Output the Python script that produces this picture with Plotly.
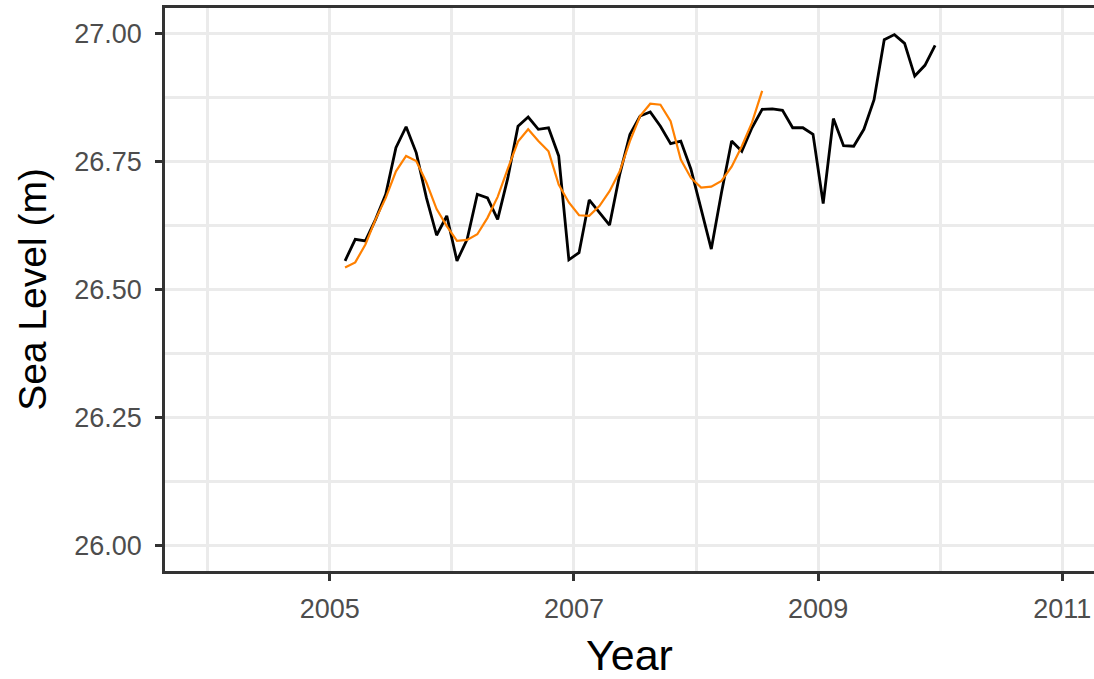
import pandas as pd
import plotly.graph_objects as go

# Monthly observations, Feb 2005 - Dec 2009
obs_months = pd.period_range("2005-02", "2009-12", freq="M")
sea_level = [
    26.556, 26.598, 26.595, 26.637, 26.686, 26.777, 26.818, 26.767, 26.679, 26.606,
    26.644, 26.556, 26.598, 26.686, 26.679, 26.637, 26.718, 26.819, 26.837, 26.813,
    26.816, 26.761, 26.558, 26.572, 26.675, 26.650, 26.626, 26.725, 26.803, 26.839,
    26.847, 26.819, 26.785, 26.790, 26.735, 26.657, 26.579, 26.689, 26.790, 26.770,
    26.816, 26.852, 26.853, 26.850, 26.816, 26.816, 26.803, 26.668, 26.834, 26.781,
    26.780, 26.813, 26.871, 26.988, 26.998, 26.981, 26.917, 26.938, 26.977,
]

# Fitted (smoothed) series, Feb 2005 - Aug 2008
fit_months = pd.period_range("2005-02", "2008-08", freq="M")
fitted_level = [
    26.543, 26.553, 26.588, 26.637, 26.679, 26.731, 26.761, 26.751, 26.709, 26.657,
    26.624, 26.595, 26.597, 26.608, 26.640, 26.681, 26.736, 26.789, 26.813, 26.790,
    26.770, 26.705, 26.670, 26.645, 26.644, 26.663, 26.692, 26.731, 26.790, 26.839,
    26.863, 26.861, 26.829, 26.754, 26.718, 26.699, 26.701, 26.712, 26.740, 26.780,
    26.826, 26.888,
]

year_ticks = [2005, 2007, 2009, 2011]
level_ticks = [26.00, 26.25, 26.50, 26.75, 27.00]


def decimal_year(periods):
    return [p.year + (p.month - 0.5) / 12 for p in periods]


fig = go.Figure()
fig.add_trace(go.Scatter(
    x=decimal_year(obs_months), y=sea_level, mode="lines",
    line=dict(color="black", width=2.8), showlegend=False,
))
fig.add_trace(go.Scatter(
    x=decimal_year(fit_months), y=fitted_level, mode="lines",
    line=dict(color="#FF8000", width=2.2), showlegend=False,
))

grid = "#EBEBEB"
axis_col = "#333333"
family = "Liberation Sans, Arial, sans-serif"
tick_font = dict(family=family, size=27, color="#4D4D4D")

fig.update_xaxes(
    range=[2003.65, 2011.26],
    tickmode="array", tickvals=year_ticks, ticktext=[str(v) for v in year_ticks],
    ticks="outside", ticklen=7, tickwidth=2.5, tickcolor=axis_col,
    showgrid=True, gridcolor=grid, gridwidth=3,
    minor=dict(dtick=1, tick0=2004, showgrid=True, gridcolor=grid, gridwidth=2.5, ticks=""),
    showline=True, linecolor=axis_col, linewidth=2.5, mirror=True,
    zeroline=False, tickfont=tick_font, ticklabelstandoff=5,
    title=dict(text="Year", font=dict(family=family, size=43, color="black"), standoff=20),
)
fig.update_yaxes(
    range=[25.95, 27.05],
    tickmode="array", tickvals=level_ticks, ticktext=[f"{v:.2f}" for v in level_ticks],
    ticks="outside", ticklen=7, tickwidth=2.5, tickcolor=axis_col,
    showgrid=True, gridcolor=grid, gridwidth=3,
    minor=dict(dtick=0.125, tick0=26.0, showgrid=True, gridcolor=grid, gridwidth=2.5, ticks=""),
    showline=True, linecolor=axis_col, linewidth=2.5, mirror=False,
    zeroline=False, tickfont=tick_font, ticklabelstandoff=8,
    title=dict(text="Sea Level (m)", font=dict(family=family, size=39, color="black"), standoff=16),
)

fig.update_layout(
    width=1094, height=679,
    margin=dict(l=165, r=0, t=8, b=108),
    plot_bgcolor="white", paper_bgcolor="white",
)

fig.write_html("out.html")
